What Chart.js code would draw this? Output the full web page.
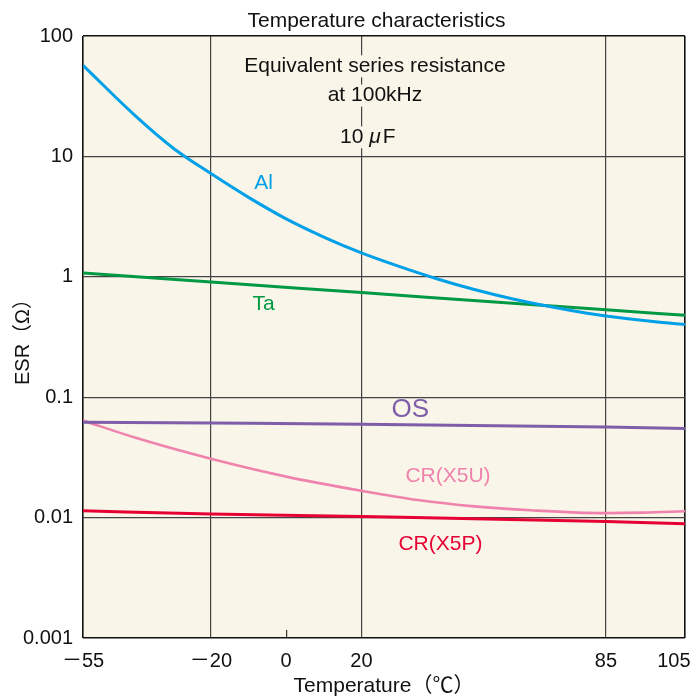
<!DOCTYPE html>
<html>
<head>
<meta charset="utf-8">
<script src="https://cdn.jsdelivr.net/npm/chart.js@4.4.1/dist/chart.umd.min.js"></script>
<style>
  html, body { margin: 0; padding: 0; background: #fff; }
  #wrap { width: 695px; height: 700px; }
</style>
</head>
<body>
<div id="wrap"><canvas id="esrChart" width="695" height="700"></canvas></div>
<script>
// --- values (temperature in deg C, ESR in ohm) ---
const tempAl  = [-54, -40, -30, -20, -10, 0, 10, 20, 30, 40, 50, 60, 70, 80, 85, 95, 106];
const esrAl   = [57, 21.6, 11.7, 7.2, 4.57, 3.03, 2.14, 1.58, 1.22, 0.964, 0.785, 0.658, 0.566, 0.498, 0.473, 0.434, 0.401];

const tempTa  = [-54, -20, 20, 85, 106];
const esrTa   = [1.074, 0.905, 0.739, 0.532, 0.479];

const tempOS  = [-54, -20, 20, 85, 106];
const esrOS   = [0.062, 0.061, 0.0597, 0.0565, 0.055];

const tempX5U = [-54, -40, -20, 0, 20, 35, 50, 65, 85, 95, 106];
const esrX5U  = [0.064, 0.046, 0.0308, 0.0219, 0.0167, 0.0140, 0.0124, 0.0115, 0.0109, 0.0110, 0.0113];

const tempX5P = [-54, -20, 20, 85, 106];
const esrX5P  = [0.0114, 0.0107, 0.0102, 0.0093, 0.0089];

// axis ticks (the print labels the frame edges -55 and 105)
const xTickValues = [-54, -20, 0, 20, 85, 106];
const xTickLabels = ['－55', '－20', '0', '20', '85', '105'];
const yTickValues = [0.001, 0.01, 0.1, 1, 10, 100];
const yTickLabels = ['0.001', '0.01', '0.1', '1', '10', '100'];

// curve names written next to the curves, anchored in data units
const curveNames = ['Al', 'Ta', 'OS', 'CR(X5U)', 'CR(X5P)'];
const nameTemp   = [-6, -6, 33, 43, 41];
const nameEsr    = [6.0, 0.59, 0.078, 0.022, 0.006];

const FONT = '"Liberation Sans", Arial, "Noto Sans CJK JP", sans-serif';
const PAPER = '#f9f5e8';
const COLORS = ['#00a0e9', '#009944', '#7e5ea8', '#f083ad', '#e60033'];
const X_MIN = -54, X_MAX = 106;

function pts(xs, ys) {
  return xs.map((x, i) => ({ x: x, y: ys[i] }));
}

function line(label, xs, ys, color, width) {
  return {
    label: label,
    data: pts(xs, ys),
    borderColor: color,
    borderWidth: width,
    pointRadius: 0,
    cubicInterpolationMode: 'monotone',
    fill: false
  };
}

// cream plot background, in-plot notes and the title
const paperPlugin = {
  id: 'paper',
  beforeDraw(chart) {
    const { ctx, chartArea: a } = chart;
    ctx.save();
    ctx.fillStyle = '#fff';
    ctx.fillRect(0, 0, chart.width, chart.height);
    ctx.fillStyle = PAPER;
    ctx.fillRect(a.left, a.top, a.right - a.left, a.bottom - a.top);
    ctx.restore();
  },
  afterDatasetsDraw(chart) {
    const { ctx } = chart;
    const xs = chart.scales.x, ys = chart.scales.y;
    ctx.save();
    ctx.textAlign = 'center';
    ctx.textBaseline = 'middle';

    // header block, knocked out of the grid like in the print
    const cx = xs.getPixelForValue(23.6);
    const head = [['Equivalent series resistance', 56], ['at 100kHz', 32]];
    ctx.font = '21px ' + FONT;
    head.forEach(([txt, v]) => {
      const y = ys.getPixelForValue(v);
      const w = ctx.measureText(txt).width;
      ctx.fillStyle = PAPER;
      ctx.fillRect(cx - w / 2 - 2, y - 11, w + 4, 22);
      ctx.fillStyle = '#111';
      ctx.fillText(txt, cx, y);
    });

    // "10 μF" with an italic mu
    const yF = ys.getPixelForValue(14.4);
    const cF = xs.getPixelForValue(21.7);
    const plain = '21px ' + FONT, ital = 'italic 21px ' + FONT;
    ctx.font = plain; const w1 = ctx.measureText('10 ').width; const w3 = ctx.measureText('F').width;
    ctx.font = ital; const w2 = ctx.measureText('μ').width + 2;
    const total = w1 + w2 + w3;
    let sx = cF - total / 2;
    ctx.fillStyle = PAPER;
    ctx.fillRect(sx - 2, yF - 11, total + 4, 22);
    ctx.fillStyle = '#111';
    ctx.textAlign = 'left';
    ctx.font = plain; ctx.fillText('10 ', sx, yF);
    ctx.font = ital; ctx.fillText('μ', sx + w1, yF);
    ctx.font = plain; ctx.fillText('F', sx + w1 + w2, yF);

    // curve names
    ctx.textAlign = 'center';
    curveNames.forEach((name, i) => {
      ctx.font = (name === 'OS' ? '26px ' : '21px ') + FONT;
      ctx.fillStyle = COLORS[i];
      ctx.fillText(name, xs.getPixelForValue(nameTemp[i]), ys.getPixelForValue(nameEsr[i]));
    });

    // chart title
    ctx.font = '21px ' + FONT;
    ctx.fillStyle = '#111';
    ctx.fillText('Temperature characteristics', xs.getPixelForValue(24), chart.chartArea.top - 15);
    ctx.restore();
  }
};

const isEdgeX = v => v === X_MIN || v === X_MAX;
const isEdgeY = v => v === yTickValues[0] || v === yTickValues[yTickValues.length - 1];

new Chart(document.getElementById('esrChart'), {
  type: 'line',
  data: {
    datasets: [
      line('Al', tempAl, esrAl, COLORS[0], 3),
      line('Ta', tempTa, esrTa, COLORS[1], 3),
      line('OS', tempOS, esrOS, COLORS[2], 3),
      line('CR(X5U)', tempX5U, esrX5U, COLORS[3], 2.6),
      line('CR(X5P)', tempX5P, esrX5P, COLORS[4], 3)
    ]
  },
  options: {
    responsive: false,
    animation: false,
    layout: { padding: { top: 36, right: 10, bottom: 0, left: 0 } },
    plugins: {
      legend: { display: false },
      tooltip: { enabled: false },
      title: { display: false }
    },
    scales: {
      x: {
        type: 'linear',
        min: X_MIN,
        max: X_MAX,
        afterBuildTicks: s => { s.ticks = xTickValues.map(v => ({ value: v })); },
        afterFit: s => { s.height = 62; s.paddingLeft = 0; s.paddingRight = 0; },
        border: { display: false },
        grid: {
          color: c => c.tick.value === 0 ? 'rgba(0,0,0,0)' : (isEdgeX(c.tick.value) ? '#111' : '#444'),
          lineWidth: c => isEdgeX(c.tick.value) ? 1.6 : 1.2,
          drawTicks: true,
          tickLength: -8,
          tickColor: c => c.tick.value === 0 ? '#333' : 'rgba(0,0,0,0)',
          tickWidth: 1.2
        },
        ticks: {
          padding: 19,
          color: '#111',
          font: { family: FONT, size: 20 },
          maxRotation: 0,
          autoSkip: false,
          // pull the right edge label inside the frame like the print does
          callback: (v, i) => i === xTickLabels.length - 1 ? xTickLabels[i] + '\u2007\u2007' : xTickLabels[i]
        },
        title: {
          display: true,
          text: 'Temperature（℃）',
          color: '#111',
          font: { family: FONT, size: 21 },
          padding: { top: 0, bottom: 1 }
        }
      },
      y: {
        type: 'logarithmic',
        min: 0.001,
        max: 100,
        afterBuildTicks: s => { s.ticks = yTickValues.map(v => ({ value: v })); },
        afterFit: s => { s.width = 83; s.paddingTop = 0; s.paddingBottom = 0; },
        border: { display: false },
        grid: {
          color: c => isEdgeY(c.tick.value) ? '#111' : '#444',
          lineWidth: c => isEdgeY(c.tick.value) ? 1.6 : 1.2,
          drawTicks: false
        },
        ticks: {
          padding: 10,
          color: '#111',
          font: { family: FONT, size: 20 },
          autoSkip: false,
          callback: (v, i) => yTickLabels[i]
        },
        title: {
          display: true,
          text: 'ESR（Ω）',
          color: '#111',
          font: { family: FONT, size: 20 },
          padding: { top: 11, bottom: 0 }
        }
      }
    }
  },
  plugins: [paperPlugin]
});
</script>
</body>
</html>
